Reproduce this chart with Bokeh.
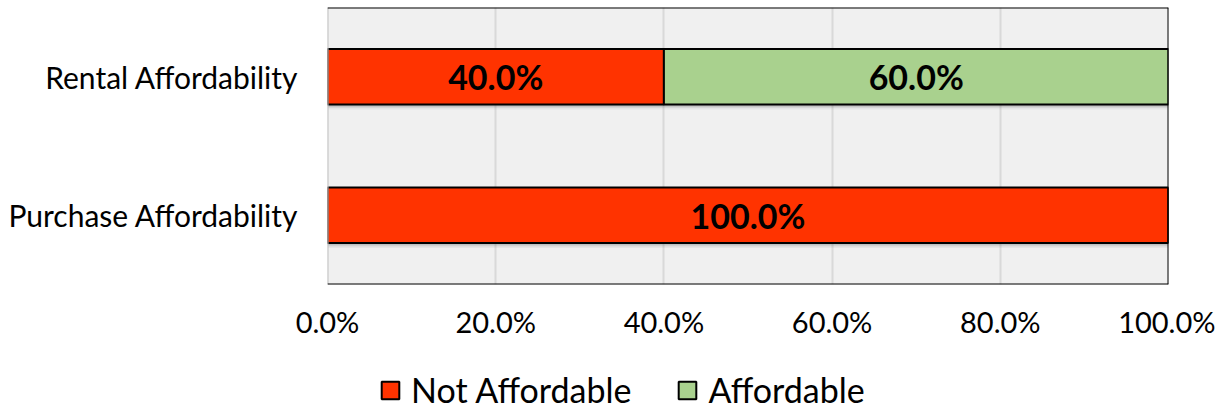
from bokeh.plotting import figure
from bokeh.layouts import column
from bokeh.models import (ColumnDataSource, FactorRange, Range1d, FixedTicker, NumeralTickFormatter,
                          Span, Legend, LegendItem, LabelSet)
from bokeh.transform import dodge
from bokeh.core.properties import value
from bokeh.embed import file_html
from bokeh.resources import INLINE

categories = ["Purchase Affordability", "Rental Affordability"]
not_affordable = [1.0, 0.4]
affordable = [0.0, 0.6]
series_names = ["Not Affordable", "Affordable"]
colors = ["#FF3300", "#A9D18E"]
x_ticks = [0.0, 0.2, 0.4, 0.6, 0.8, 1.0]

FONT = "Lato"
NAN = float("nan")

src = ColumnDataSource(dict(cat=categories, na=not_affordable, af=affordable,
                            tot=[a + b for a, b in zip(not_affordable, affordable)]))

p = figure(width=1215, height=346, y_range=FactorRange(*categories, range_padding=0),
           x_range=Range1d(0, 1), output_backend="svg", toolbar_location=None,
           min_border_left=327, min_border_right=47, min_border_top=7, min_border_bottom=62)

p.background_fill_color = "#F0F0F0"
p.border_fill_color = "white"
p.outline_line_color = None

p.xgrid.ticker = FixedTicker(ticks=x_ticks)
p.xgrid.grid_line_color = "#D9D9D9"
p.xgrid.grid_line_width = 2
p.ygrid.grid_line_color = None

# soft shadow under bars
for off, alpha in [(-0.036, 0.06), (-0.026, 0.09), (-0.016, 0.14)]:
    p.hbar(y=dodge("cat", off, range=p.y_range), left=0, right="tot", height=0.4, source=src,
           fill_color="#404040", fill_alpha=alpha, line_color=None)

rs = p.hbar_stack(["na", "af"], y="cat", height=0.4, source=src, color=colors,
                  line_color="black", line_width=2)

# labels
lab_x, lab_y, lab_t = [], [], []
for c, a, b in zip(categories, not_affordable, affordable):
    if a > 0:
        lab_x.append(a / 2); lab_y.append(c); lab_t.append(f"{a*100:.1f}%")
    if b > 0:
        lab_x.append(a + b / 2); lab_y.append(c); lab_t.append(f"{b*100:.1f}%")
lsrc = ColumnDataSource(dict(x=lab_x, y=lab_y, t=lab_t))
p.add_layout(LabelSet(x="x", y="y", text="t", source=lsrc, text_align="center",
                      text_baseline="middle", text_font=value(FONT), text_font_style="bold",
                      text_font_size="34px", text_color="black"))

# frame borders
p.add_layout(Span(location=0, dimension="height", line_color="#BFBFBF", line_width=2))
p.add_layout(Span(location=1, dimension="height", line_color="black", line_width=2))
p.add_layout(Span(location=0, dimension="width", line_color="black", line_width=2))
p.add_layout(Span(location=2, dimension="width", line_color="black", line_width=2))

p.xaxis.ticker = FixedTicker(ticks=x_ticks)
p.xaxis.formatter = NumeralTickFormatter(format="0.0%")
p.xaxis.axis_line_color = None
p.xaxis.major_tick_line_color = None
p.xaxis.minor_tick_line_color = None
p.xaxis.major_label_text_font = FONT
p.xaxis.major_label_text_font_size = "29px"
p.xaxis.major_label_text_color = "black"
p.xaxis.major_label_standoff = 13

p.yaxis.axis_line_color = None
p.yaxis.major_tick_line_color = None
p.yaxis.major_label_text_font = FONT
p.yaxis.major_label_text_font_size = "30px"
p.yaxis.major_label_text_color = "black"
p.yaxis.major_label_standoff = 23

# legend figure
lf = figure(width=1215, height=64, x_range=Range1d(0, 1), y_range=Range1d(0, 1),
            output_backend="svg", toolbar_location=None,
            min_border_left=0, min_border_right=0, min_border_top=0, min_border_bottom=0)
lf.axis.visible = False
lf.grid.grid_line_color = None
lf.outline_line_color = None
lf.background_fill_color = "white"
lf.border_fill_color = "white"
dummies = [lf.hbar(y=[NAN], right=[NAN], left=[NAN], height=0.5, fill_color=colors[i],
                   line_color="black", line_width=2) for i in range(2)]

legend = Legend(items=[LegendItem(label=series_names[i], renderers=[dummies[i]]) for i in range(2)],
                orientation="horizontal", location=(52, 0), padding=0, margin=0,
                spacing=45, glyph_width=22, glyph_height=22, label_standoff=10,
                label_text_font=FONT, label_text_font_size="34px", label_text_color="black",
                background_fill_alpha=0, border_line_color=None)
lf.add_layout(legend, "center")

open("out.html", "w").write(file_html(column(p, lf, spacing=0), INLINE))
